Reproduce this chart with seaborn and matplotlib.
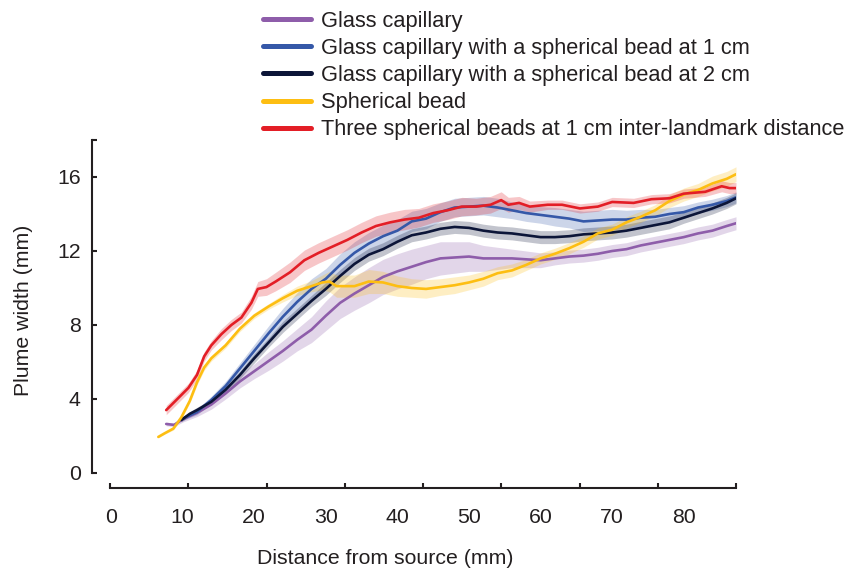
import numpy as np
import pandas as pd
import matplotlib
matplotlib.use("Agg")
import matplotlib.pyplot as plt
from matplotlib.lines import Line2D
import seaborn as sns

# ---------------- data ----------------
labels = [
    "Glass capillary",
    "Glass capillary with a spherical bead at 1 cm",
    "Glass capillary with a spherical bead at 2 cm",
    "Spherical bead",
    "Three spherical beads at 1 cm inter-landmark distance",
]
colors = ["#8E5DAA", "#3558A8", "#0C1538", "#FDBE12", "#E31E26"]

x_cap = [7.7, 8.8, 10, 12, 14, 16, 18, 20, 22, 24, 26, 28, 30, 32, 34, 36, 38, 40, 42, 44,
         46, 48, 50, 52, 54, 56, 58, 60, 62, 64, 66, 68, 70, 72, 74, 76, 78, 80, 82, 84, 86, 87.3]
y_cap = [2.65, 2.6, 2.9, 3.25, 3.7, 4.3, 4.95, 5.5, 6.05, 6.6, 7.2, 7.75, 8.5, 9.2, 9.7, 10.15,
         10.6, 10.9, 11.15, 11.4, 11.6, 11.65, 11.7, 11.6, 11.6, 11.6, 11.55, 11.5, 11.6, 11.7,
         11.75, 11.85, 12.0, 12.1, 12.3, 12.45, 12.6, 12.75, 12.95, 13.1, 13.35, 13.5]
e_cap = [0.1, 0.1, 0.15, 0.2, 0.25, 0.3, 0.35, 0.4, 0.5, 0.55, 0.6, 0.7, 0.8, 0.85, 0.9, 0.95,
         0.95, 0.95, 0.95, 0.9, 0.9, 0.85, 0.8, 0.7, 0.6, 0.5, 0.45, 0.4, 0.35, 0.35,
         0.35, 0.35, 0.35, 0.35, 0.35, 0.35, 0.35, 0.35, 0.35, 0.35, 0.35, 0.35]

x_b1 = [9.8, 12, 14, 16, 18, 20, 22, 24, 26, 28, 30, 32, 34, 36, 38, 40, 42, 44, 46, 48,
        50, 52, 54, 56, 58, 60, 62, 64, 66, 68, 70, 72, 74, 76, 78, 80, 82, 84, 86, 87.3]
y_b1 = [2.9, 3.3, 3.95, 4.7, 5.65, 6.6, 7.55, 8.45, 9.25, 9.95, 10.5, 11.25, 11.9, 12.4, 12.8,
        13.1, 13.6, 13.75, 14.1, 14.35, 14.4, 14.45, 14.35, 14.2, 14.05, 13.95, 13.85, 13.75,
        13.6, 13.65, 13.7, 13.7, 13.8, 13.85, 14.0, 14.1, 14.35, 14.5, 14.7, 14.9]
e_b1 = [0.1, 0.15, 0.2, 0.25, 0.3, 0.35, 0.4, 0.45, 0.5, 0.55, 0.55, 0.6, 0.6, 0.6, 0.6,
        0.6, 0.55, 0.55, 0.5, 0.5, 0.5, 0.5, 0.5, 0.45, 0.45, 0.45, 0.5, 0.5,
        0.55, 0.55, 0.55, 0.5, 0.45, 0.4, 0.35, 0.35, 0.3, 0.3, 0.3, 0.3]

x_b2 = [9.8, 11, 12, 14, 16, 18, 20, 22, 24, 26, 28, 30, 32, 34, 36, 38, 40, 42, 44, 46, 48,
        50, 52, 54, 56, 58, 60, 62, 64, 66, 68, 70, 72, 74, 76, 78, 80, 82, 84, 86, 87.3]
y_b2 = [2.86, 3.2, 3.4, 3.85, 4.5, 5.3, 6.2, 7.05, 7.9, 8.6, 9.3, 9.95, 10.65, 11.3, 11.8,
        12.1, 12.5, 12.85, 13.0, 13.2, 13.3, 13.25, 13.1, 13.0, 12.95, 12.85, 12.75, 12.75,
        12.8, 12.9, 12.95, 13.0, 13.1, 13.25, 13.4, 13.55, 13.8, 14.05, 14.3, 14.6, 14.85]
e_b2 = [0.1, 0.12, 0.15, 0.15, 0.2, 0.2, 0.25, 0.25, 0.3, 0.3, 0.3, 0.35, 0.35, 0.35, 0.35,
        0.35, 0.35, 0.35, 0.35, 0.35, 0.35, 0.35, 0.35, 0.35, 0.35, 0.35, 0.35, 0.35,
        0.35, 0.35, 0.35, 0.35, 0.35, 0.35, 0.35, 0.35, 0.3, 0.3, 0.3, 0.3, 0.3]

x_sb = [6.6, 7.5, 8.7, 9.8, 11, 12, 13, 14, 16, 18, 20, 22, 24, 26, 28, 29.5, 30.5, 31.5, 34,
        36, 38, 40, 42, 44, 46, 48, 50, 52, 54, 56, 58, 60, 62, 64, 66, 68, 70, 72, 74, 76,
        78, 80, 82, 84, 86, 87.3]
y_sb = [1.95, 2.15, 2.4, 3.0, 3.9, 4.9, 5.7, 6.2, 6.9, 7.8, 8.5, 9.0, 9.45, 9.85, 10.1, 10.3,
        10.35, 10.1, 10.1, 10.35, 10.3, 10.1, 10.0, 9.95, 10.05, 10.15, 10.3, 10.5, 10.8, 10.95,
        11.25, 11.6, 11.85, 12.15, 12.5, 12.95, 13.15, 13.55, 13.85, 14.2, 14.7, 15.05, 15.3,
        15.65, 15.9, 16.15]
e_sb = [0.05, 0.05, 0.08, 0.1, 0.12, 0.15, 0.15, 0.15, 0.15, 0.15, 0.15, 0.15, 0.2, 0.25, 0.3,
        0.4, 0.55, 0.6, 0.6, 0.65, 0.6, 0.55, 0.5, 0.5, 0.45, 0.45, 0.4, 0.4, 0.35, 0.35,
        0.3, 0.3, 0.3, 0.3, 0.3, 0.3, 0.3, 0.3, 0.3, 0.3, 0.35, 0.35, 0.35, 0.4, 0.4, 0.4]

x_tb = [7.7, 9, 10.8, 12, 13, 14, 15.4, 16.8, 18.2, 19.6, 20.5, 21.7, 23, 25, 27, 29, 31, 33,
        35, 37, 39, 41, 43, 45, 47, 49, 51, 53, 54.5, 55.5, 57, 58.5, 61, 63, 65.5, 68, 70,
        73, 75.5, 78, 80, 83, 85.3, 86.4, 87.3]
y_tb = [3.4, 3.9, 4.6, 5.3, 6.3, 6.9, 7.5, 8.0, 8.4, 9.2, 9.95, 10.05, 10.35, 10.85, 11.5,
        11.9, 12.25, 12.6, 13.0, 13.35, 13.55, 13.7, 13.8, 14.05, 14.2, 14.4, 14.4, 14.5,
        14.75, 14.5, 14.6, 14.4, 14.5, 14.5, 14.3, 14.4, 14.65, 14.6, 14.8, 14.85, 15.1,
        15.2, 15.5, 15.4, 15.4]
e_tb = [0.25, 0.25, 0.25, 0.25, 0.25, 0.25, 0.3, 0.3, 0.3, 0.35, 0.4, 0.45, 0.5, 0.55, 0.55,
        0.55, 0.55, 0.55, 0.55, 0.55, 0.55, 0.55, 0.5, 0.5, 0.5, 0.5, 0.45, 0.45,
        0.45, 0.4, 0.35, 0.3, 0.25, 0.25, 0.25, 0.25, 0.25, 0.25, 0.25, 0.25, 0.25,
        0.25, 0.3, 0.3, 0.3]

x_ticks = [0, 10, 20, 30, 40, 50, 60, 70, 80]
y_ticks = [0, 4, 8, 12, 16]

series_x = [x_cap, x_b1, x_b2, x_sb, x_tb]
series_y = [y_cap, y_b1, y_b2, y_sb, y_tb]
series_e = [e_cap, e_b1, e_b2, e_sb, e_tb]

frames = []
for lab, xs, ys, es in zip(labels, series_x, series_y, series_e):
    frames.append(pd.DataFrame({"x": xs, "y": ys, "e": es, "cond": lab}))
df = pd.concat(frames, ignore_index=True)

# ---------------- plot ----------------
sns.set_style("ticks")
plt.rcParams["font.family"] = ["Liberation Sans", "DejaVu Sans"]
ink = "#231F20"
fs_tick = 15.3
fs_leg = 15.7

fig = plt.figure(figsize=(8.5, 5.74), dpi=100)
ax = fig.add_axes([110 / 850, 1 - 473 / 574, 626 / 850, 333 / 574])

for lab, col in zip(labels, colors):
    d = df[df["cond"] == lab]
    ax.fill_between(d["x"], d["y"] - d["e"], d["y"] + d["e"], color=col,
                    alpha=0.25, linewidth=0)

sns.lineplot(data=df, x="x", y="y", hue="cond", palette=dict(zip(labels, colors)),
             hue_order=labels, sort=False, estimator=None, errorbar=None,
             linewidth=1.9, legend=False, ax=ax)

xmin, xmax = -0.15, 87.3
ax.set_xlim(xmin, xmax)
ax.set_ylim(0, 18)

for s in ["top", "right"]:
    ax.spines[s].set_visible(False)
ax.spines["left"].set_position(("outward", 13))
ax.spines["bottom"].set_position(("outward", 11))
for s in ["left", "bottom"]:
    ax.spines[s].set_linewidth(1.5)
    ax.spines[s].set_color(ink)

ax.set_yticks(y_ticks)
ax.set_yticks([18], minor=True)
ax.set_xticks(x_ticks)
ax.set_xticks(np.linspace(xmin, xmax, 9), minor=True)
ax.tick_params(axis="x", which="major", length=0, labelsize=fs_tick, pad=14, labelcolor=ink)
ax.tick_params(axis="x", which="minor", direction="in", length=3.8, width=1.5, color=ink)
ax.tick_params(axis="y", which="both", direction="in", length=3.8, width=1.5, color=ink,
               labelsize=fs_tick, pad=8, labelcolor=ink)

ax.set_xlabel("Distance from source (mm)", fontsize=fs_tick, color=ink)
ax.set_ylabel("Plume width (mm)", fontsize=fs_tick, color=ink)
ax.xaxis.set_label_coords(0.44, -0.228)
ax.yaxis.set_label_coords(-0.123, 0.49)

handles = [Line2D([0], [0], color=c, linewidth=3.6) for c in colors]
fig.legend(handles, labels, loc="upper left", bbox_to_anchor=(263 / 850, 0.981),
           frameon=False, fontsize=fs_leg, handlelength=2.19, handletextpad=0.47,
           labelspacing=0.28, borderpad=0, borderaxespad=0, labelcolor=ink)

fig.savefig("out.png", dpi=100)
